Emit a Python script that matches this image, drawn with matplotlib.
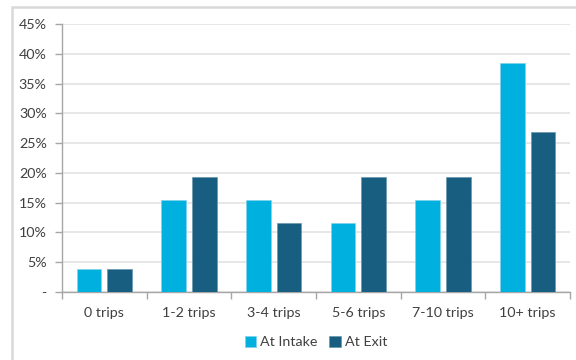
import matplotlib
matplotlib.use('Agg')
import matplotlib.pyplot as plt
import matplotlib.ticker as mticker
from matplotlib.patches import Rectangle
import numpy as np

# ─── Data ───────────────────────────────────────────────────────
categories = ['0 trips', '1-2 trips', '3-4 trips', '5-6 trips', '7-10 trips', '10+ trips']
intake_pct = [3.85, 15.38, 15.38, 11.54, 15.38, 38.46]
exit_pct   = [3.85, 19.23, 11.54, 19.23, 19.23, 26.92]
series_labels = ['At Intake', 'At Exit']

C_INTAKE = '#00B0DE'
C_EXIT   = '#175E80'
TXT      = '#404040'
FS       = 10.3

plt.rcParams['font.family'] = ['Lato', 'DejaVu Sans']

fig = plt.figure(figsize=(5.76, 3.6), dpi=100)
ax = fig.add_axes([62/576, 1 - 292/360, (570 - 62)/576, (292 - 24)/360])

# outer chart border (top and left edges visible)
fig.add_artist(Rectangle((11.5/576, -0.1), 1.2, 1 - 6.5/360 + 0.1,
                         transform=fig.transFigure, fill=False,
                         edgecolor='#D9D9D9', linewidth=1.8))

x = np.arange(len(categories))
w = 0.29
off = 0.18
ax.bar(x - off, intake_pct, w, color=C_INTAKE, edgecolor='#7FD3EC',
       linewidth=0.5, label=series_labels[0], zorder=3)
ax.bar(x + off, exit_pct, w, color=C_EXIT, edgecolor='#6A96AE',
       linewidth=0.5, label=series_labels[1], zorder=3)

ax.set_xlim(-0.5, len(categories) - 0.5)
ax.set_ylim(0, 45)
ax.yaxis.set_major_locator(mticker.MultipleLocator(5))
ax.yaxis.set_major_formatter(mticker.FuncFormatter(
    lambda v, _: '-' if v == 0 else f'{int(v)}%'))
ax.grid(True, axis='y', color='#E3E3E3', linewidth=1.2, zorder=0)
ax.set_axisbelow(True)

ax.set_xticks(x)
ax.set_xticklabels(categories)
ax.set_xticks(np.arange(len(categories) + 1) - 0.5, minor=True)
ax.tick_params(axis='x', which='major', length=0, pad=11, labelsize=FS, labelcolor=TXT)
ax.tick_params(axis='x', which='minor', length=5, width=1, color='#A6A6A6')
ax.tick_params(axis='y', length=5, width=1, color='#A6A6A6', labelsize=FS,
               labelcolor=TXT, pad=6)

for s in ['top', 'right']:
    ax.spines[s].set_visible(False)
for s in ['left', 'bottom']:
    ax.spines[s].set_color('#A6A6A6')
    ax.spines[s].set_linewidth(1)

leg = ax.legend(loc='center', bbox_to_anchor=(0.5, -0.187), ncol=2,
                frameon=False, fontsize=FS, handlelength=0.8, handleheight=0.8,
                handletextpad=0.3, columnspacing=0.8)
for t in leg.get_texts():
    t.set_color(TXT)

fig.savefig('out.png', dpi=100)
